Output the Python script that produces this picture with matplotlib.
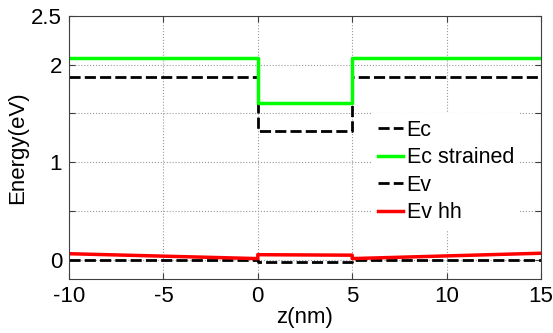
import matplotlib
matplotlib.use('Agg')
import matplotlib.pyplot as plt

plt.rcParams['font.family'] = ['Liberation Sans', 'DejaVu Sans']

# 数据：位置 z (nm) 与各能带 (eV)
z = [-10, 0, 0, 5, 5, 15]
ec = [1.87, 1.87, 1.32, 1.32, 1.87, 1.87]
ec_strained = [2.07, 2.07, 1.61, 1.61, 2.07, 2.07]
ev = [0.0, 0.0, -0.02, -0.02, 0.0, 0.0]
ev_hh = [0.06, 0.01, 0.05, 0.045, 0.01, 0.065]

yticks = [0, 0.5, 1, 1.5, 2, 2.5]
yticklabels = ['0', '', '1', '', '2', '2.5']
xticks = [-10, -5, 0, 5, 10, 15]

fig = plt.figure(figsize=(5.53, 3.33), dpi=100)
ax = fig.add_axes([0.1248, 0.162, 0.8535, 0.790])

ax.plot(z, ec, color='black', linestyle=(0, (4, 1.5)), linewidth=2, label='Ec')
ax.plot(z, ec_strained, color='#00ff00', linewidth=2.5, label='Ec strained')
ax.plot(z, ev, color='black', linestyle=(0, (4, 1.5)), linewidth=2, label='Ev')
ax.plot(z, ev_hh, color='#ff0000', linewidth=2.5, label='Ev hh')

ax.set_xlim(-10, 15)
ax.set_ylim(-0.2, 2.5)
ax.set_xticks(xticks)
ax.set_xticklabels([str(t) for t in xticks])
ax.set_yticks(yticks)
ax.set_yticklabels(yticklabels)

ax.grid(True, linestyle=':', color='#999999', linewidth=0.8)
ax.tick_params(direction='in', top=True, right=True, labelsize=16, length=4,
               color='#404040', pad=5)
for s in ax.spines.values():
    s.set_color('#404040')

ax.set_xlabel('z(nm)', fontsize=16, labelpad=0)
ax.set_ylabel('Energy(eV)', fontsize=16, labelpad=2)

leg = ax.legend(loc='upper left', bbox_to_anchor=(0.64, 0.63), frameon=True,
                fontsize=15.5, handlelength=1.2, handletextpad=0.15,
                labelspacing=0.3, borderpad=0.3, borderaxespad=0)
leg.get_frame().set_edgecolor('none')
leg.get_frame().set_facecolor('white')
leg.get_frame().set_alpha(1)
leg.get_frame().set_boxstyle('square', pad=0)

fig.savefig('out.png', dpi=100)
